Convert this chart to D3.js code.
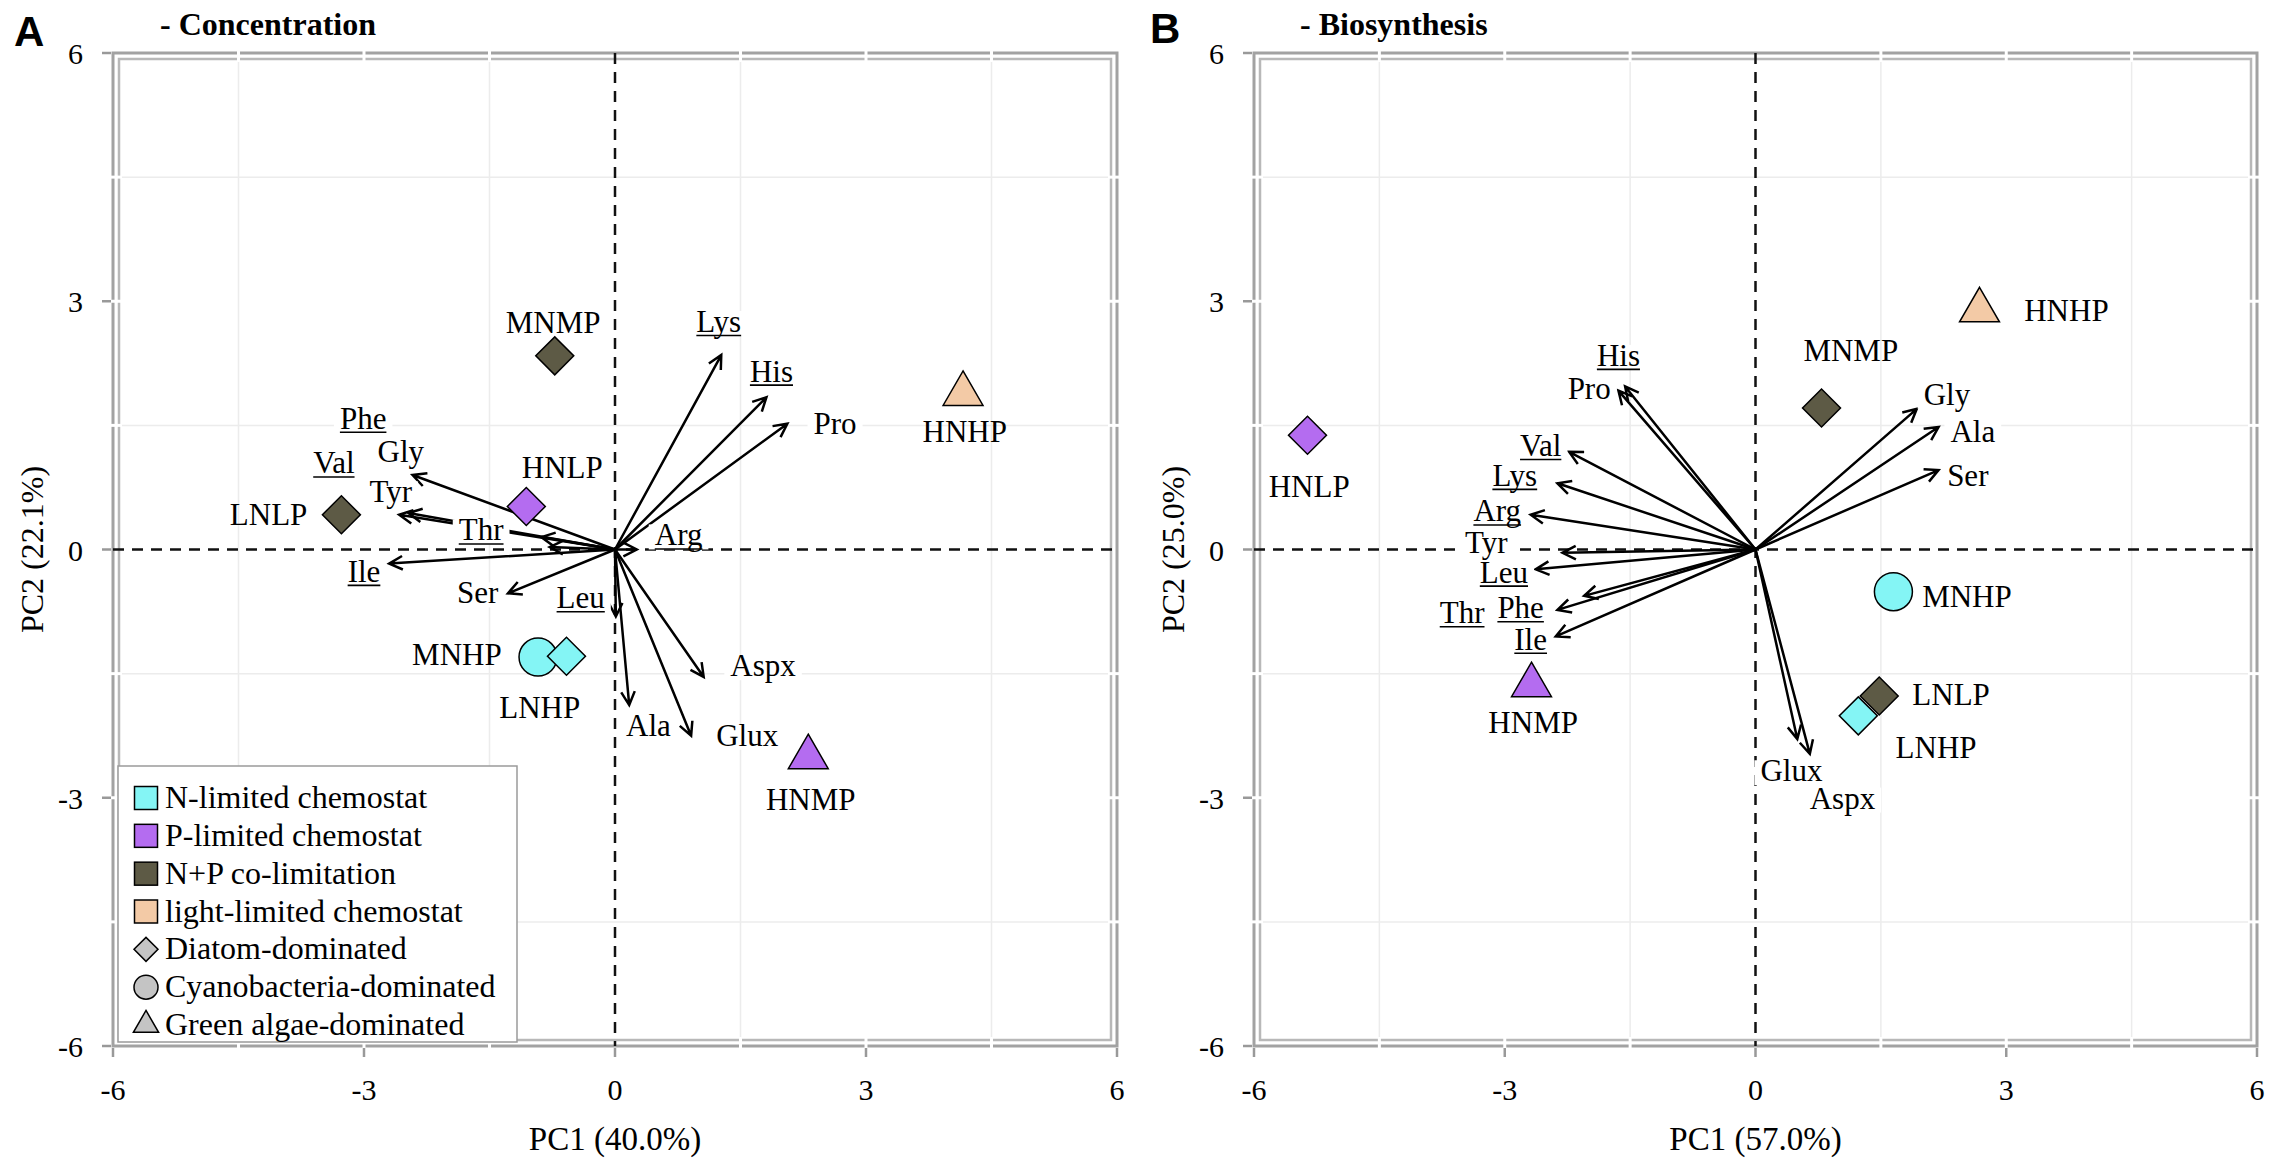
<!DOCTYPE html>
<html>
<head>
<meta charset="utf-8">
<script src="https://cdn.jsdelivr.net/npm/d3@7"></script>
<style>
  body { margin: 0; background: #fff; }
  svg { display: block; font-family: "Liberation Serif", "Times New Roman", serif; }
</style>
</head>
<body>
<div id="chart"></div>
<script>
// Axis ticks, grid lines and breaks in the double frame
const tickValues = [-6, -3, 0, 3, 6];
const gridValues = [-4.5, -1.5, 1.5, 4.5];
const frameBreaks = [-4.5, -3, -1.5, 1.5, 3, 4.5];

// Samples (scores) - same order in both panels
const sampleNames = ["HNHP", "HNLP", "HNMP", "MNMP", "MNHP", "LNLP", "LNHP"];
const sampleGroup = ["light", "P", "P", "NP", "N", "NP", "N"];
const sampleShape = ["triangle", "diamond", "triangle", "diamond", "circle", "diamond", "diamond"];

// Panel A - Concentration
const concScoreX = [4.16, -1.06, 2.31, -0.72, -0.92, -3.27, -0.58];
const concScoreY = [1.88, 0.52, -2.51, 2.34, -1.30, 0.42, -1.29];
const concScoreLabelX = [4.18, -0.63, 2.34, -0.74, -1.89, -4.14, -0.90];
const concScoreLabelY = [1.43, 1.00, -3.02, 2.75, -1.26, 0.43, -1.90];

const concAmino = ["Lys", "His", "Pro", "Arg", "Gly", "Tyr", "Val", "Phe", "Thr", "Ile", "Ser", "Leu", "Aspx", "Ala", "Glux"];
const concLoadX = [1.27, 1.81, 2.06, 0.26, -2.42, -2.58, -2.47, -0.78, -0.88, -2.70, -1.28, 0.01, 1.06, 0.17, 0.91];
const concLoadY = [2.35, 1.84, 1.52, 0.00, 0.90, 0.42, 0.44, 0.03, 0.15, -0.17, -0.53, -0.81, -1.54, -1.88, -2.25];
const concLabelX = [1.24, 1.87, 2.63, 0.76, -2.56, -2.68, -3.36, -3.01, -1.60, -3.00, -1.64, -0.41, 1.77, 0.40, 1.58];
const concLabelY = [2.75, 2.15, 1.52, 0.17, 1.18, 0.69, 1.04, 1.58, 0.23, -0.27, -0.53, -0.59, -1.41, -2.13, -2.25];

// Panel B - Biosynthesis
const bioScoreX = [2.68, -5.36, -2.68, 0.79, 1.65, 1.48, 1.23];
const bioScoreY = [2.89, 1.38, -1.64, 1.71, -0.51, -1.77, -2.01];
const bioScoreLabelX = [3.72, -5.34, -2.66, 1.14, 2.53, 2.34, 2.16];
const bioScoreLabelY = [2.89, 0.77, -2.08, 2.41, -0.56, -1.75, -2.39];

const bioAmino = ["His", "Pro", "Val", "Lys", "Arg", "Tyr", "Leu", "Thr", "Phe", "Ile", "Gly", "Ala", "Ser", "Glux", "Aspx"];
const bioLoadX = [-1.56, -1.64, -2.23, -2.37, -2.69, -2.31, -2.63, -2.05, -2.37, -2.39, 1.93, 2.19, 2.19, 0.50, 0.65];
const bioLoadY = [1.97, 1.92, 1.18, 0.80, 0.42, -0.04, -0.24, -0.56, -0.73, -1.05, 1.70, 1.48, 0.96, -2.29, -2.47];
const bioLabelX = [-1.64, -1.99, -2.57, -2.88, -3.09, -3.22, -3.01, -3.51, -2.81, -2.69, 2.29, 2.60, 2.54, 0.43, 1.04];
const bioLabelY = [2.34, 1.94, 1.25, 0.89, 0.46, 0.08, -0.28, -0.77, -0.71, -1.09, 1.87, 1.42, 0.89, -2.68, -3.01];

// Essential amino acids are underlined
const underlined = ["Lys", "His", "Phe", "Val", "Thr", "Ile", "Arg", "Leu"];

// Legend
const legendLabels = ["N-limited chemostat", "P-limited chemostat", "N+P co-limitation", "light-limited chemostat",
  "Diatom-dominated", "Cyanobacteria-dominated", "Green algae-dominated"];
const legendKeys = ["N", "P", "NP", "light", "diamond", "circle", "triangle"];

const groupColor = {N: "#84f5f5", P: "#b46cf0", NP: "#5d5a45", light: "#f3caa6"};

const W = 2270, H = 1159;
const svg = d3.select("#chart").append("svg")
  .attr("width", W)
  .attr("height", H);

const y = d3.scaleLinear().domain([-6, 6]).range([1046, 53]);

function shapePath(shape, size) {
  if (shape === "circle") return d3.symbol(d3.symbolCircle, Math.PI * size * size)();
  if (shape === "triangle") return d3.symbol(d3.symbolTriangle, 0.433 * (size * 2.1) * (size * 2.1))();
  return d3.symbol(d3.symbolSquare, 2 * size * size)(); // rotated later -> diamond
}

function drawPanel(opts) {
  const x = d3.scaleLinear().domain([-6, 6]).range(opts.range);
  const g = svg.append("g");
  const x0 = x(-6), x1 = x(6), y0 = y(6), y1 = y(-6);

  // grid lines
  g.selectAll(".vgrid").data(gridValues).enter().append("line")
    .attr("x1", d => x(d)).attr("x2", d => x(d))
    .attr("y1", y0).attr("y2", y1)
    .attr("stroke", "#ececec").attr("stroke-width", 1.5);
  g.selectAll(".hgrid").data(gridValues).enter().append("line")
    .attr("y1", d => y(d)).attr("y2", d => y(d))
    .attr("x1", x0).attr("x2", x1)
    .attr("stroke", "#ececec").attr("stroke-width", 1.5);

  // double frame
  g.append("rect")
    .attr("x", x0).attr("y", y0).attr("width", x1 - x0).attr("height", y1 - y0)
    .attr("fill", "none").attr("stroke", "#a2a2a2").attr("stroke-width", 3);
  g.append("rect")
    .attr("x", x0 + 6).attr("y", y0 + 6).attr("width", x1 - x0 - 12).attr("height", y1 - y0 - 12)
    .attr("fill", "none").attr("stroke", "#b8b8b8").attr("stroke-width", 2.5);

  // white breaks in the frame
  frameBreaks.forEach(v => {
    [[y0 - 3, y0 + 9], [y1 - 9, y1 + 3]].forEach(([a, b]) => {
      g.append("line").attr("x1", x(v)).attr("x2", x(v)).attr("y1", a).attr("y2", b)
        .attr("stroke", "#fff").attr("stroke-width", 3);
    });
    [[x0 - 3, x0 + 9], [x1 - 9, x1 + 3]].forEach(([a, b]) => {
      g.append("line").attr("y1", y(v)).attr("y2", y(v)).attr("x1", a).attr("x2", b)
        .attr("stroke", "#fff").attr("stroke-width", 3);
    });
  });

  // tick marks
  g.selectAll(".xtick").data(tickValues).enter().append("line")
    .attr("x1", d => x(d)).attr("x2", d => x(d))
    .attr("y1", y1 + 2).attr("y2", y1 + 11)
    .attr("stroke", "#999").attr("stroke-width", 2.5);
  g.selectAll(".ytick").data(tickValues).enter().append("line")
    .attr("y1", d => y(d)).attr("y2", d => y(d))
    .attr("x1", x0 - 11).attr("x2", x0 - 2)
    .attr("stroke", "#999").attr("stroke-width", 2.5);

  // tick labels
  g.selectAll(".xlab").data(tickValues).enter().append("text")
    .attr("x", d => x(d)).attr("y", 1100)
    .attr("text-anchor", "middle")
    .style("font-size", "30px")
    .text(d => d);
  g.selectAll(".ylab").data(tickValues).enter().append("text")
    .attr("x", x0 - 30).attr("y", d => y(d) + 11)
    .attr("text-anchor", "end")
    .style("font-size", "30px")
    .text(d => d);

  // axis titles
  g.append("text")
    .attr("x", x(0)).attr("y", 1150)
    .attr("text-anchor", "middle")
    .style("font-size", "33px")
    .text(opts.xTitle);
  g.append("text")
    .attr("transform", `translate(${x0 - 70},${y(0)}) rotate(-90)`)
    .attr("text-anchor", "middle")
    .style("font-size", "32px")
    .text(opts.yTitle);

  // panel letter and title
  svg.append("text")
    .attr("x", opts.letterX).attr("y", opts.letterY)
    .style("font-family", "'Liberation Sans', Arial, sans-serif")
    .style("font-weight", "bold")
    .style("font-size", "42px")
    .text(opts.letter);
  svg.append("text")
    .attr("x", opts.titleX).attr("y", 35)
    .style("font-weight", "bold")
    .style("font-size", "32px")
    .text(opts.title);

  // reference dashed lines
  g.append("line")
    .attr("x1", x(0)).attr("x2", x(0)).attr("y1", y0).attr("y2", y1)
    .attr("stroke", "#111").attr("stroke-width", 2.5).attr("stroke-dasharray", "11,8");
  g.append("line")
    .attr("x1", x0).attr("x2", x1).attr("y1", y(0)).attr("y2", y(0))
    .attr("stroke", "#111").attr("stroke-width", 2.5).attr("stroke-dasharray", "11,8");

  // loading arrows
  const head = 15, spread = 0.47;
  opts.amino.forEach((name, i) => {
    const sx = x(0), sy = y(0);
    const ex = x(opts.loadX[i]), ey = y(opts.loadY[i]);
    const ang = Math.atan2(ey - sy, ex - sx);
    const p1 = [ex - head * Math.cos(ang - spread), ey - head * Math.sin(ang - spread)];
    const p2 = [ex - head * Math.cos(ang + spread), ey - head * Math.sin(ang + spread)];
    g.append("path")
      .attr("d", `M${sx},${sy}L${ex},${ey}M${p1[0]},${p1[1]}L${ex},${ey}L${p2[0]},${p2[1]}`)
      .attr("fill", "none").attr("stroke", "#000").attr("stroke-width", 2.5)
      .attr("stroke-linejoin", "miter");
  });

  // loading labels with white backing
  opts.amino.forEach((name, i) => {
    const cx = x(opts.labelX[i]), base = y(opts.labelY[i]) + 10;
    const lg = g.append("g");
    const bg = lg.append("rect").attr("fill", "#fff");
    const t = lg.append("text")
      .attr("x", cx).attr("y", base)
      .attr("text-anchor", "middle")
      .style("font-size", "31px")
      .text(name);
    const w = t.node().getComputedTextLength();
    bg.attr("x", cx - w / 2 - 6).attr("y", base - 21).attr("width", w + 12).attr("height", 25);
    if (underlined.includes(name)) {
      lg.append("line")
        .attr("x1", cx - w / 2).attr("x2", cx + w / 2)
        .attr("y1", base + 3.5).attr("y2", base + 3.5)
        .attr("stroke", "#000").attr("stroke-width", 1.6);
    }
  });

  // sample markers
  sampleNames.forEach((name, i) => {
    const shape = sampleShape[i];
    const px = x(opts.scoreX[i]), py = y(opts.scoreY[i]);
    g.append("path")
      .attr("d", shapePath(shape, 19))
      .attr("transform", `translate(${px},${py})` + (shape === "diamond" ? " rotate(45)" : ""))
      .attr("fill", groupColor[sampleGroup[i]])
      .attr("stroke", "#000").attr("stroke-width", 1.5);
    g.append("text")
      .attr("x", x(opts.scoreLabelX[i])).attr("y", y(opts.scoreLabelY[i]) + 11)
      .attr("text-anchor", "middle")
      .style("font-size", "31px")
      .text(name);
  });

  return x;
}

drawPanel({
  range: [113, 1117], letter: "A", letterX: 14, letterY: 46, title: "- Concentration", titleX: 160,
  xTitle: "PC1 (40.0%)", yTitle: "PC2 (22.1%)",
  amino: concAmino, loadX: concLoadX, loadY: concLoadY, labelX: concLabelX, labelY: concLabelY,
  scoreX: concScoreX, scoreY: concScoreY, scoreLabelX: concScoreLabelX, scoreLabelY: concScoreLabelY
});

drawPanel({
  range: [1254, 2257], letter: "B", letterX: 1150, letterY: 43, title: "- Biosynthesis", titleX: 1300,
  xTitle: "PC1 (57.0%)", yTitle: "PC2 (25.0%)",
  amino: bioAmino, loadX: bioLoadX, loadY: bioLoadY, labelX: bioLabelX, labelY: bioLabelY,
  scoreX: bioScoreX, scoreY: bioScoreY, scoreLabelX: bioScoreLabelX, scoreLabelY: bioScoreLabelY
});

// Legend (panel A, bottom left)
const legend = svg.append("g");
legend.append("rect")
  .attr("x", 118).attr("y", 766).attr("width", 399).attr("height", 276)
  .attr("fill", "#fff").attr("stroke", "#9a9a9a").attr("stroke-width", 1.5);

const rowY = d3.scalePoint().domain(legendKeys).range([798, 1025]);
legendKeys.forEach((key, i) => {
  const cy = rowY(key), cx = 146;
  if (groupColor[key]) {
    legend.append("rect")
      .attr("x", cx - 11.5).attr("y", cy - 11.5).attr("width", 23).attr("height", 23)
      .attr("fill", groupColor[key]).attr("stroke", "#000").attr("stroke-width", 1.5);
  } else {
    legend.append("path")
      .attr("d", shapePath(key, 12))
      .attr("transform", `translate(${cx},${cy})` + (key === "diamond" ? " rotate(45)" : ""))
      .attr("fill", "#c4c4c4").attr("stroke", "#000").attr("stroke-width", 1.5);
  }
  legend.append("text")
    .attr("x", 165).attr("y", cy + 10)
    .style("font-size", "32px")
    .text(legendLabels[i]);
});
</script>
</body>
</html>
